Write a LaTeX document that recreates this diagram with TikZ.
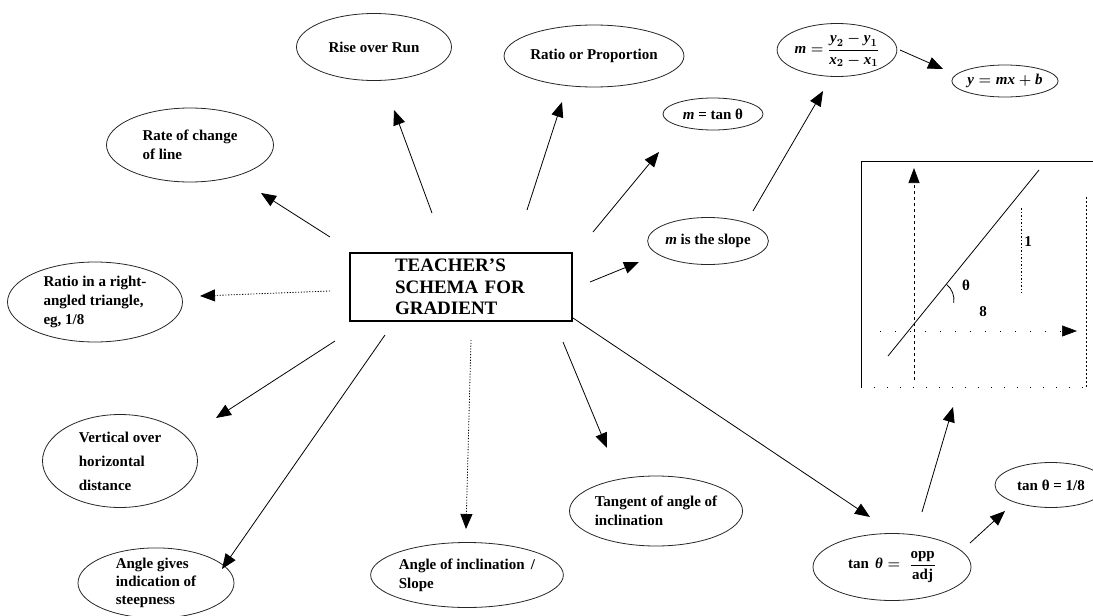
\documentclass[tikz,border=0pt]{standalone}
\usepackage{fontspec}
\setmainfont{Liberation Serif}
\usetikzlibrary{shapes.geometric,arrows.meta}
\begin{document}
\begin{tikzpicture}[x=1pt,y=-1pt,
  bub/.style n args={2}{ellipse, draw=black!85, line width=0.8pt,
    minimum width=#1, minimum height=#2, inner sep=0pt, align=left,
    font=\fontsize{15}{19}\selectfont\bfseries},
  arr/.style={-{Triangle[length=15pt,width=12pt]}, line width=0.8pt},
  dotarr/.style={arr, dash pattern=on 1.2pt off 1.6pt},
  lbl/.style={font=\fontsize{15}{18}\selectfont\bfseries, inner sep=0pt}]
\useasboundingbox (0,0) rectangle (1093,616);

% central box
\node[draw, line width=2.6pt, minimum width=222pt, minimum height=68pt,
  text width=132pt, inner xsep=45pt, inner ysep=0pt, align=left,
  font=\fontsize{19}{21.5}\selectfont\bfseries] (box) at (461,287)
  {TEACHER’S\\SCHEMA FOR\\GRADIENT};

% ellipses
\node[bub={155pt}{67pt}] (rise) at (374,47) {Rise over Run};
\node[bub={164pt}{62pt}] (ratio) at (594,56) {Ratio or Proportion};
\node[bub={167pt}{74pt}] (rate) at (190,145) {Rate of change\\of line};
\node[bub={100pt}{32pt}] (tanm) at (713,114) {\textit{m} = tan θ};
\node[bub={101pt}{53pt}] (formula) at (837,50)
  {{\boldmath$\textbf{\textit{m}}=\displaystyle\frac{\textbf{\textit{y}}_2-\textbf{\textit{y}}_1}{\textbf{\textit{x}}_2-\textbf{\textit{x}}_1}$}};
\node[bub={103pt}{32pt}] (line) at (1005,81) {{\boldmath$\textbf{\textit{y}} = \textbf{\textit{mx}} + \textbf{\textit{b}}$}};
\node[bub={113pt}{47pt}] (slope) at (708,241) {\textit{m} is the slope};
\node[bub={175pt}{80pt}] (tri) at (95,302) {Ratio in a right-\\angled triangle,\\eg, 1/8};
\node[bub={155pt}{93pt}, font=\fontsize{15}{24}\selectfont\bfseries] (vert) at (120,461) {Vertical over\\horizontal\\distance};
\node[bub={156pt}{58pt}, font=\fontsize{15}{18}\selectfont\bfseries] (steep) at (156,583) {Angle gives\\indication of\\steepness};
\node[bub={185pt}{65pt}] (incl) at (467,575) {Angle of inclination \,/\\Slope};
\node[bub={159pt}{70pt}] (tang) at (656,511) {Tangent of angle of\\inclination};
\node[bub={158pt}{67pt}] (opp) at (892,567)
  {tan \,{\boldmath$\textbf{\textit{θ}} = \;\displaystyle\frac{\textbf{opp}}{\textbf{adj}}$}};
\node[bub={112pt}{45pt}] (eighth) at (1051,485) {tan θ = 1/8};

% connector end points
\coordinate (s1) at (330,237); \coordinate (t1) at (261,193);
\coordinate (s2) at (432,213); \coordinate (t2) at (394,110);
\coordinate (s3) at (527,210); \coordinate (t3) at (562,102);
\coordinate (s4) at (593,232); \coordinate (t4) at (659,152);
\coordinate (s5) at (590,282); \coordinate (t5) at (639,262);
\coordinate (s6) at (753,211); \coordinate (t6) at (823,91);
\coordinate (s7) at (900,50);  \coordinate (t7) at (943,69);
\coordinate (s8) at (330,291); \coordinate (t8) at (200,296);
\coordinate (s9) at (335,341); \coordinate (t9) at (216,418);
\coordinate (s10) at (385,335); \coordinate (t10) at (222,569);
\coordinate (s11) at (471,340); \coordinate (t11) at (466,529);
\coordinate (s12) at (563,342); \coordinate (t12) at (607,448);
\coordinate (s13) at (573,318); \coordinate (t13) at (870,517);
\coordinate (s14) at (922,512); \coordinate (t14) at (953,407);
\coordinate (s15) at (970,543); \coordinate (t15) at (1005,511);

\draw[arr] (s1) -- (t1);
\draw[arr] (s2) -- (t2);
\draw[arr] (s3) -- (t3);
\draw[arr] (s4) -- (t4);
\draw[arr] (s5) -- (t5);
\draw[arr] (s6) -- (t6);
\draw[arr] (s7) -- (t7);
\draw[dotarr] (s8) -- (t8);
\draw[arr] (s9) -- (t9);
\draw[arr] (s10) -- (t10);
\draw[dotarr] (s11) -- (t11);
\draw[arr] (s12) -- (t12);
\draw[arr] (s13) -- (t13);
\draw[arr] (s14) -- (t14);
\draw[arr] (s15) -- (t15);

% graph panel
\draw[line width=0.8pt] (861,387) -- (861,161) -- (1093,161);
\draw[line width=0.6pt, dash pattern=on 1pt off 12pt] (861,387) -- (1086,387);
\draw[line width=0.6pt, dash pattern=on 1.5pt off 2.5pt] (1086,197) -- (1086,387);
\draw[line width=0.7pt, dash pattern=on 3pt off 3pt, -{Triangle[length=15pt,width=11pt]}] (914,380) -- (914,168);
\draw[line width=0.6pt, dash pattern=on 1pt off 14pt, -{Triangle[length=15pt,width=11pt]}] (880,331) -- (1077,331);
\draw[line width=0.8pt] (888,356) -- (1039,170);
\draw[line width=0.8pt] (934,300) ++(-51:20) arc (-51:8:20);
\draw[line width=0.6pt, dash pattern=on 1.5pt off 2pt] (1021,208) -- (1021,293);
\node[lbl] (th) at (966,285) {θ};
\node[lbl] (eight) at (983,312) {8};
\node[lbl] (one) at (1028,242) {1};
\end{tikzpicture}
\end{document}
